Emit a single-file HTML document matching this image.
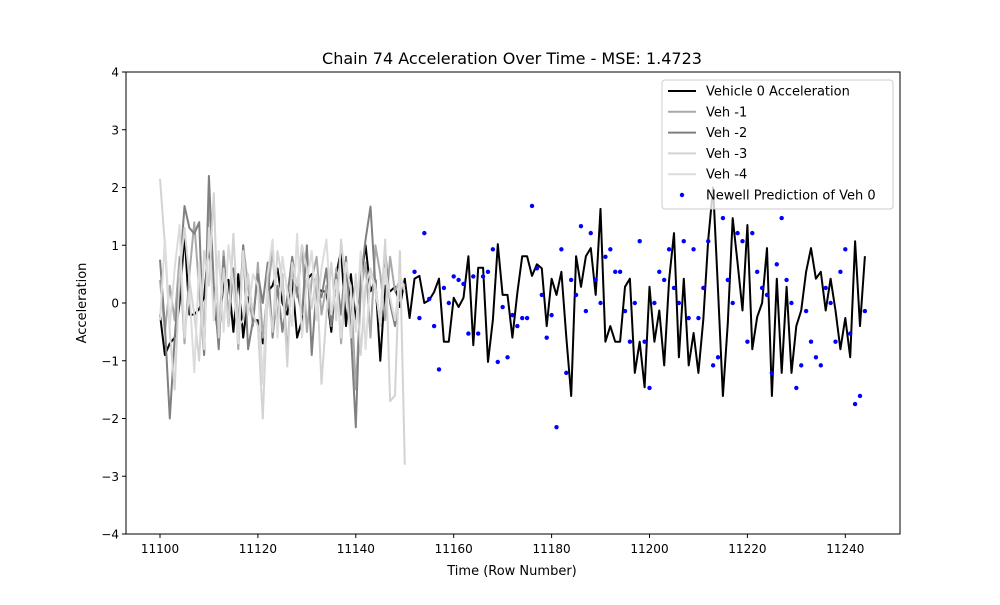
<!DOCTYPE html>
<html><head><meta charset="utf-8"><style>
body{margin:0;background:#fff;font-family:"Liberation Sans","DejaVu Sans",sans-serif}
svg text{font-family:"DejaVu Sans","Liberation Sans",sans-serif;fill:#000}
</style></head><body>
<svg id="c" width="1000" height="600" xmlns="http://www.w3.org/2000/svg"></svg>
<script>
const xTicks=[11100,11120,11140,11160,11180,11200,11220,11240];
const yTicks=[-4,-3,-2,-1,0,1,2,3,4];
const blackStart=11100;
const black=[-0.2,-0.9,-0.7,-0.6,0.0,1.2,-0.2,-0.2,-0.1,0.1,1.0,0.0,-0.6,0.4,0.4,-0.5,0.5,-0.6,0.1,-0.3,-0.3,-0.7,0.2,0.3,0.6,0.0,-0.2,0.4,-0.6,-0.3,0.4,0.5,0.3,0.2,0.2,-0.5,0.5,0.9,-0.4,0.5,-0.3,0.4,1.0,0.2,0.4,-1.0,0.3,0.2,
0.28,-0.07,0.42,-0.26,0.42,0.47,0.0,0.05,0.19,0.42,-0.67,-0.67,0.09,-0.07,0.09,0.81,-0.73,0.61,0.61,-1.02,-0.29,1.02,0.14,0.14,-0.6,0.17,0.81,0.81,0.47,0.67,0.6,-0.4,0.42,0.14,0.54,-0.59,-1.61,0.81,0.28,0.81,0.95,0.14,1.63,-0.67,-0.4,-0.67,-0.67,0.28,0.42,-1.21,-0.67,-1.46,0.28,
-0.67,-0.13,-1.08,0.4,1.21,-0.94,0.42,-1.08,-0.52,-1.21,-0.29,1.09,2.0,0.23,-1.61,-0.35,1.47,0.69,-0.13,1.35,-0.8,-0.24,0.0,0.95,-1.61,0.42,-1.21,0.28,-1.21,-0.4,-0.13,0.54,0.95,0.42,0.54,-0.13,0.42,-0.13,-0.8,-0.26,-0.94,1.07,-0.4,0.81];
const veh1=[0.4,-0.5,0.3,-0.3,0.8,-0.7,0.5,1.4,0.2,-0.9,1.9,0.1,-0.6,0.9,-0.2,0.6,-0.8,1.0,0.3,-0.4,0.7,-0.6,0.2,0.9,-0.3,0.5,-0.9,0.6,0.1,1.0,-0.5,0.4,0.8,-0.2,0.3,-0.4,0.6,-0.7,0.5,0.3,-1.5,0.2,0.7,-0.6,1.0,0.5,-0.3,0.8,0.2,0.4,0.3];
const veh2=[0.75,-0.4,-2.0,-0.6,0.5,1.68,1.3,1.2,1.4,-0.9,2.2,0.3,-0.8,0.8,-0.4,0.6,-0.5,1.0,-0.8,-0.3,0.5,0.0,0.7,-0.6,0.3,-0.5,0.1,0.8,0.2,-0.2,1.0,-0.9,0.3,0.1,0.6,-0.4,0.5,-0.2,0.8,-0.5,-2.15,0.4,1.1,1.67,0.3,-0.4,0.9,0.0,-0.4,0.2,0.3];
const veh3=[2.15,1.0,-0.5,-1.5,0.5,1.3,0.4,-0.2,-1.0,0.9,0.3,1.9,-0.6,0.6,-0.4,1.2,-0.4,-0.3,0.5,-0.2,-0.4,-2.0,0.2,-0.5,0.9,0.4,-1.1,0.7,0.3,1.0,0.6,-0.1,0.5,-1.4,-0.2,0.7,-0.3,1.1,0.2,-0.6,0.5,-0.9,0.3,0.6,0.2,-0.3,1.1,-1.7,-1.6,0.9,-2.8];
const veh4=[-0.3,1.1,-0.4,0.6,1.35,-0.6,0.2,-1.2,0.7,-0.8,1.3,-0.3,0.9,-0.5,1.0,0.3,-0.7,0.9,-0.2,0.5,0.3,-1.4,0.5,1.1,-0.6,0.8,0.2,-0.4,1.2,-0.6,0.4,0.9,-0.3,0.6,1.1,-0.2,0.4,-0.6,0.7,0.2,-0.5,0.9,-0.8,0.5,0.3,-0.4,0.6,0.1,-0.3,0.5,0.2];
const dotStart=11152;
const dots=[0.54,-0.26,1.21,0.07,-0.4,-1.15,0.26,0.0,0.46,0.4,0.33,-0.53,0.46,-0.53,0.46,0.54,0.93,-1.02,-0.07,-0.94,-0.21,-0.4,-0.26,-0.26,1.68,0.6,0.14,-0.6,-0.21,-2.15,0.93,-1.21,0.4,0.14,1.33,-0.14,1.21,0.4,0.0,0.8,0.93,0.54,0.54,-0.14,-0.67,0.0,1.07,-0.67,-1.47,
0.0,0.54,0.4,0.93,0.26,0.0,1.07,-0.26,0.93,-0.26,0.26,1.07,-1.08,-0.94,1.47,0.4,0.0,1.21,1.07,-0.67,1.21,0.54,0.26,0.14,-1.21,0.67,1.47,0.4,0.0,-1.47,-1.08,-0.14,-0.67,-0.94,-1.08,0.26,0.0,-0.67,0.54,0.93,-0.53,-1.75,-1.61,-0.14];

const NS='http://www.w3.org/2000/svg';
const svg=document.getElementById('c');
const L=126,R=900,T=72,B=534;
const X=t=>160+(t-11100)*4.895;
const Y=v=>303-v*57.75;
function mk(tag,attrs,parent){const e=document.createElementNS(NS,tag);for(const k in attrs)e.setAttribute(k,attrs[k]);(parent||svg).appendChild(e);return e;}

const title=mk('text',{x:512,y:64,'text-anchor':'middle','font-size':16});


title.textContent='Chain 74 Acceleration Over Time - MSE: 1.4723';

function line(arr,start,color,name){
  const p=arr.map((v,i)=>X(start+i).toFixed(1)+','+Y(v).toFixed(1)).join(' ');
  const e=mk('polyline',{points:p,fill:'none',stroke:color,'stroke-width':2,'stroke-linejoin':'round'});
  
  
}
line(black,blackStart,'#000','vehicle-0-line');
line(veh1,11100,'#a9a9a9','veh-minus-1-line');
line(veh2,11100,'#808080','veh-minus-2-line');
line(veh3,11100,'#d3d3d3','veh-minus-3-line');
line(veh4,11100,'#dcdcdc','veh-minus-4-line');
dots.forEach((v,i)=>{
  const d=mk('circle',{cx:X(dotStart+i),cy:Y(v),r:2.2,fill:'#0000ff'});
  
  
});

const frame=mk('rect',{x:L,y:T,width:R-L,height:B-T,fill:'none',stroke:'#000','stroke-width':1});



xTicks.forEach(t=>{
  mk('line',{x1:X(t),x2:X(t),y1:B,y2:B+4,stroke:'#000'});
  const tx=mk('text',{x:X(t),y:B+19,'text-anchor':'middle','font-size':12});
  
  
  tx.textContent=t;
});
yTicks.forEach(v=>{
  mk('line',{x1:L-4,x2:L,y1:Y(v),y2:Y(v),stroke:'#000'});
  const tx=mk('text',{x:L-7,y:Y(v)+4.5,'text-anchor':'end','font-size':12});
  
  
  tx.textContent=v<0?'\u2212'+(-v):v;
});
const xl=mk('text',{x:512,y:575,'text-anchor':'middle','font-size':13});


xl.textContent='Time (Row Number)';
const yl=mk('text',{x:86,y:303,'text-anchor':'middle','font-size':13,transform:'rotate(-90 86 303)'});


yl.textContent='Acceleration';

const lg=mk('g',{});


mk('rect',{x:662,y:80,width:231,height:129,rx:3,fill:'#fff','fill-opacity':0.8,stroke:'#ccc'},lg);
const entries=[['Vehicle 0 Acceleration','#000','line'],['Veh -1','#a9a9a9','line'],['Veh -2','#808080','line'],['Veh -3','#d3d3d3','line'],['Veh -4','#dcdcdc','line'],['Newell Prediction of Veh 0','#0000ff','dot']];
entries.forEach((e,i)=>{
  const y=91+i*20.8;
  if(e[2]==='line')mk('line',{x1:668,x2:696,y1:y,y2:y,stroke:e[1],'stroke-width':2},lg);
  else mk('circle',{cx:682,cy:y,r:2.2,fill:e[1]},lg);
  const t=mk('text',{x:706,y:y+4.5,'font-size':13},lg);
  
  
  t.textContent=e[0];
});
</script>
</body></html>
